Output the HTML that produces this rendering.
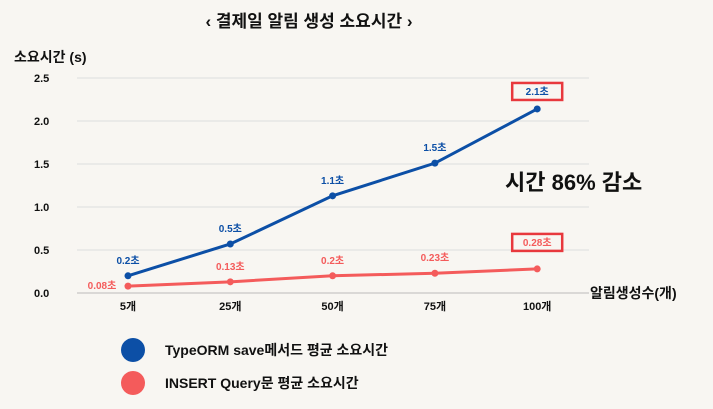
<!DOCTYPE html>
<html><head><meta charset="utf-8"><style>
body{margin:0;width:713px;height:409px;background:#f8f6f2;overflow:hidden;font-family:"Liberation Sans","Noto Sans CJK KR",sans-serif}
svg{display:block}
</style></head><body>
<svg id="c" width="713" height="409">
<g id="grid"></g>
<text x="309" y="27" text-anchor="middle" font-size="17" font-weight="bold" fill="#111" font-family="Liberation Sans, Noto Sans CJK KR, sans-serif">‹ 결제일 알림 생성 소요시간 ›</text>
<text x="14" y="62" font-size="14" font-weight="bold" fill="#111" font-family="Liberation Sans, Noto Sans CJK KR, sans-serif">소요시간 (s)</text>
<text x="590" y="298" font-size="14" font-weight="bold" fill="#111" font-family="Liberation Sans, Noto Sans CJK KR, sans-serif">알림생성수(개)</text>
<text x="505" y="190" font-size="22" font-weight="bold" fill="#111" font-family="Liberation Sans, Noto Sans CJK KR, sans-serif">시간 86% 감소</text>
<circle cx="133" cy="350" r="12" fill="#0c4fa6"/>
<text x="165" y="355" font-size="14" font-weight="bold" fill="#111" font-family="Liberation Sans, Noto Sans CJK KR, sans-serif">TypeORM save메서드 평균 소요시간</text>
<circle cx="133" cy="383" r="12" fill="#f45b5b"/>
<text x="165" y="388" font-size="14" font-weight="bold" fill="#111" font-family="Liberation Sans, Noto Sans CJK KR, sans-serif">INSERT Query문 평균 소요시간</text>
</svg>
<script>
const categories=["5개","25개","50개","75개","100개"];
const blueValues=[0.2,0.57,1.13,1.51,2.14];
const redValues=[0.08,0.13,0.2,0.23,0.28];
const blueLabels=["0.2초","0.5초","1.1초","1.5초","2.1초"];
const redLabels=["0.08초","0.13초","0.2초","0.23초","0.28초"];
const yTicks=[0,0.5,1,1.5,2,2.5];
const yTickLabels=["0.0","0.5","1.0","1.5","2.0","2.5"];
const svg=document.getElementById('c');const grid=document.getElementById('grid');const NS="http://www.w3.org/2000/svg";
function x(i){return 128+i*102.3;}
function y(v){return 293-v*86;}
function mk(t,a,parent){const e=document.createElementNS(NS,t);for(const k in a)e.setAttribute(k,a[k]);(parent||svg).appendChild(e);return e;}
function txt(s,a){const e=mk('text',a);e.textContent=s;e.setAttribute('font-family','Liberation Sans, Noto Sans CJK KR, sans-serif');e.setAttribute('font-weight','bold');return e;}
yTicks.forEach((t,i)=>{
 const l=mk('line',{x1:77,x2:589,y1:y(t),y2:y(t),stroke:i==0?'#bbb':'#ddd','stroke-width':1},grid);
 
 
 const e=txt(yTickLabels[i],{x:34,y:y(t)+4,'font-size':11,fill:'#111'});
 
 
});
categories.forEach((c,i)=>{
 const e=txt(c,{x:x(i),y:310,'font-size':11,fill:'#111','text-anchor':'middle'});
 
 
});
function series(vals,labels,color,name,lo){
 const p=mk('polyline',{points:vals.map((v,i)=>x(i)+','+y(v)).join(' '),fill:'none',stroke:color,'stroke-width':3});
 
 
 vals.forEach((v,i)=>{
  const c=mk('circle',{cx:x(i),cy:y(v),r:3.5,fill:color});
  
  
  let lx=x(i),ly=y(v)-(lo&&i==0?-3:12);
  if(lo&&i==0){lx=x(i)-26;}
  if(i==4){ly=y(v)-(lo?23:14);}
  const t=txt(labels[i],{x:lx,y:ly,'font-size':10,fill:color,'text-anchor':'middle'});
  
  
  if(i==4){const r=mk('rect',{x:lx-25,y:ly-12,width:50,height:17,fill:'none',stroke:'#e8383d','stroke-width':2.5});
   
   }
 });
}
series(redValues,redLabels,'#f45b5b','insert',true);
series(blueValues,blueLabels,'#0c4fa6','typeorm',false);
</script>
</body></html>
